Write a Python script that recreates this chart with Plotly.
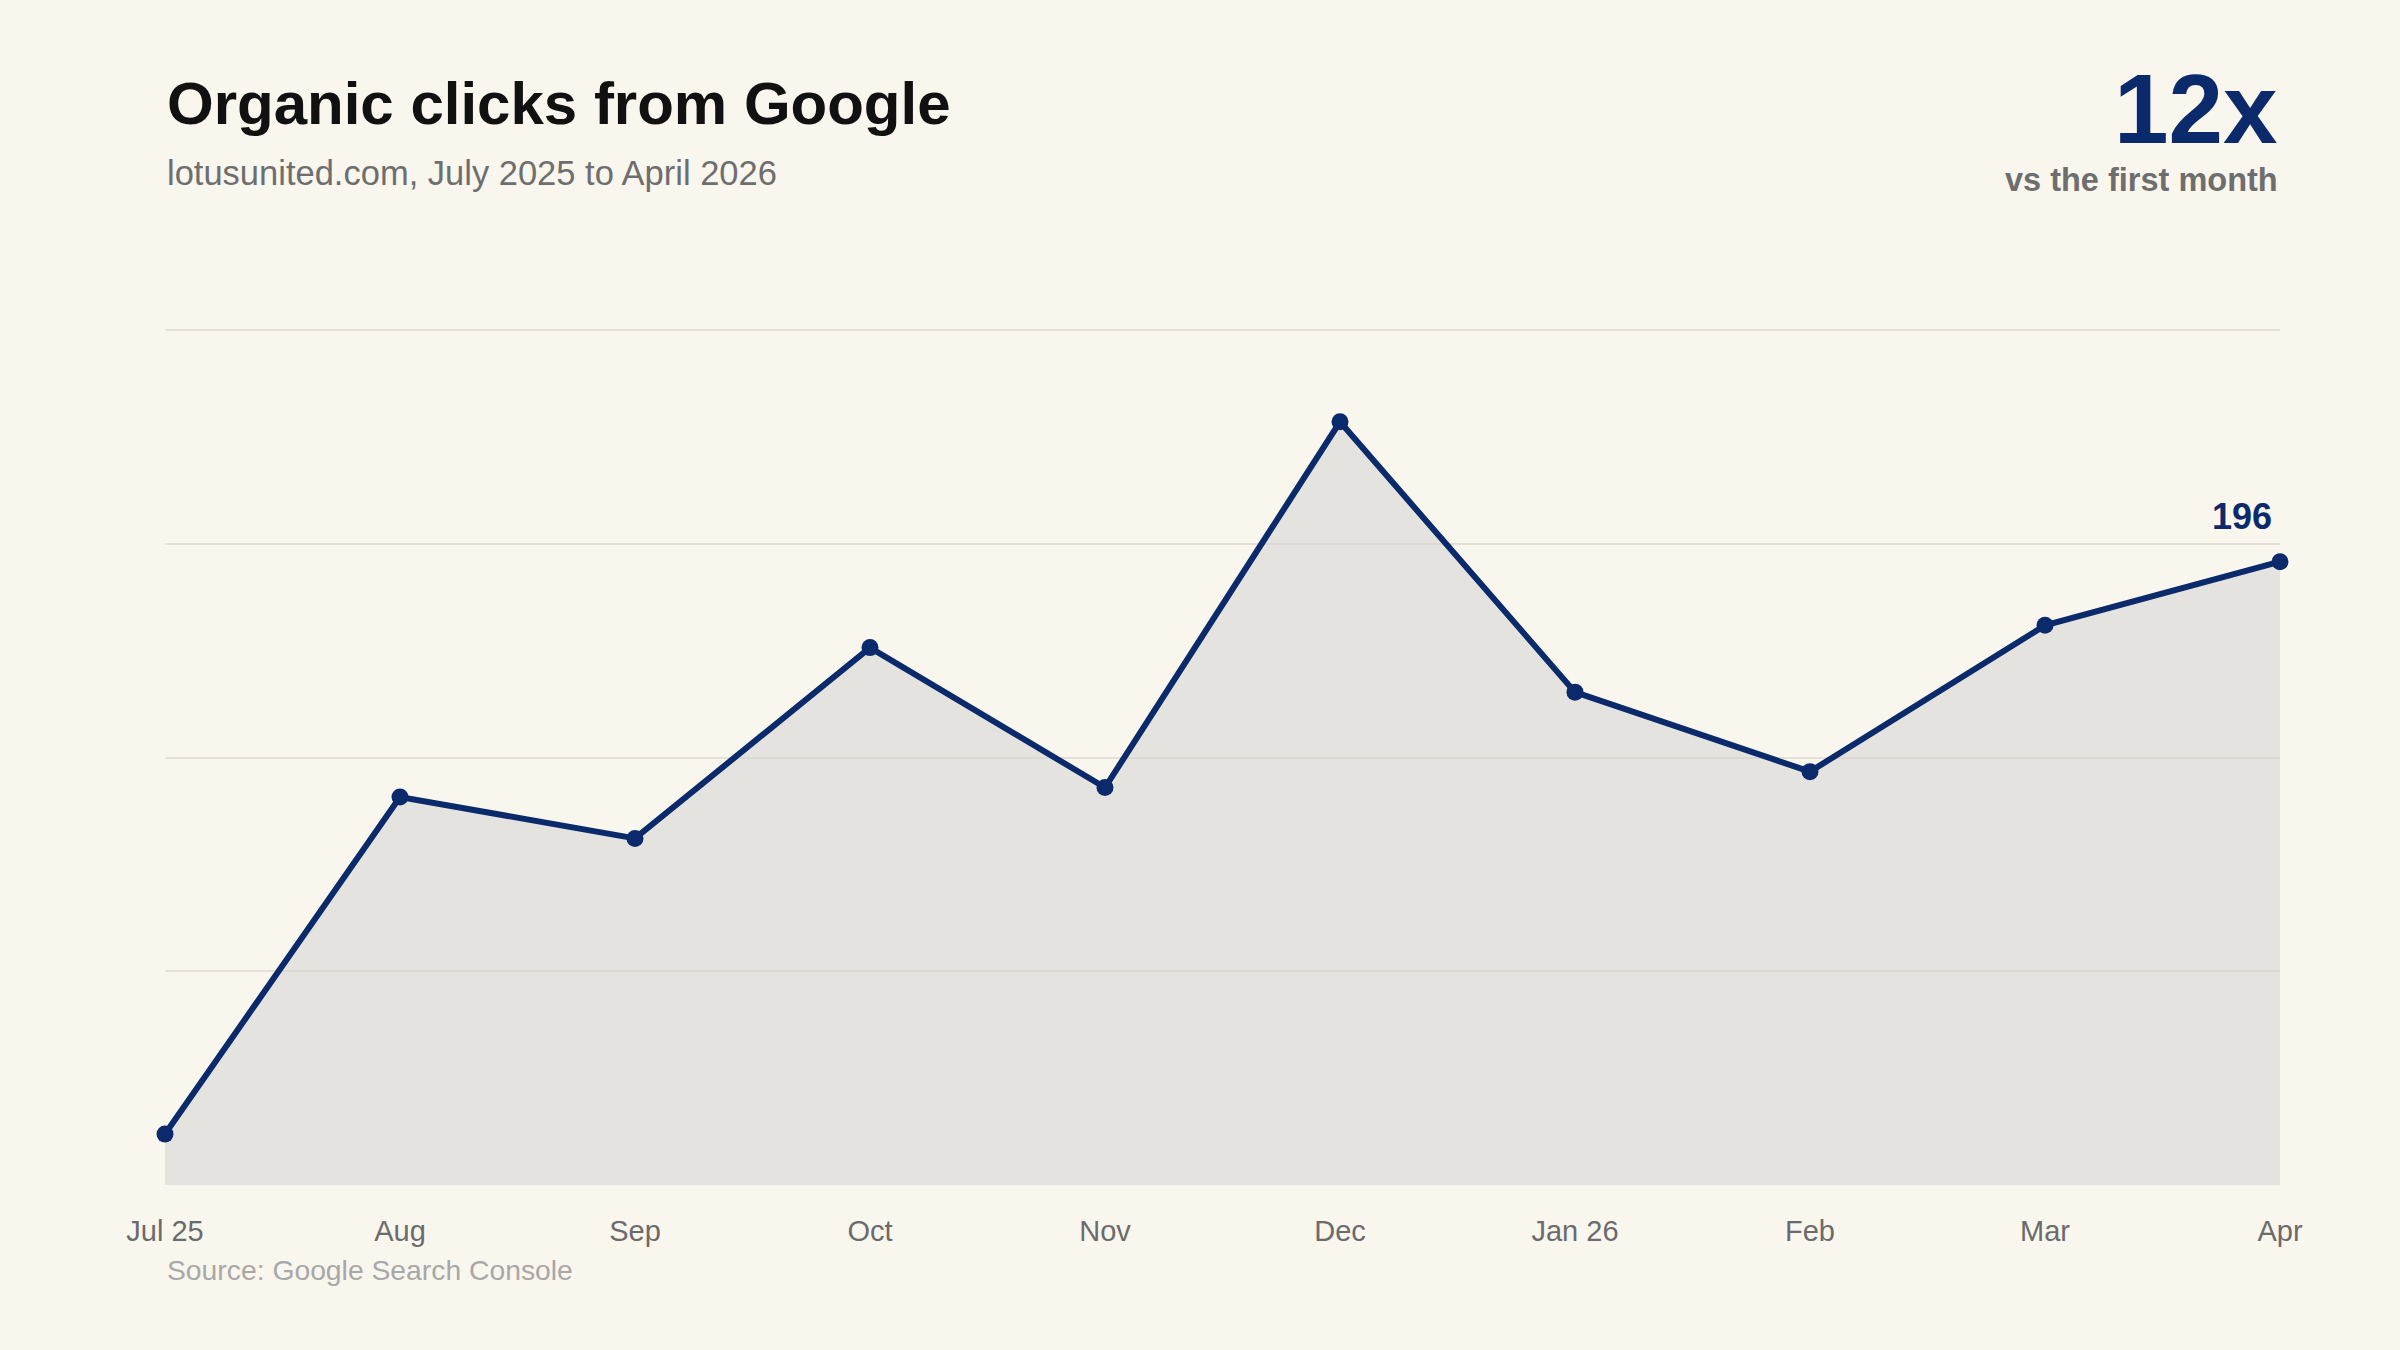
import plotly.graph_objects as go

months = ["Jul 25", "Aug", "Sep", "Oct", "Nov", "Dec", "Jan 26", "Feb", "Mar", "Apr"]
clicks = [16, 122, 109, 169, 125, 240, 155, 130, 176, 196]

title_text = "Organic clicks from Google"
subtitle_text = "lotusunited.com, July 2025 to April 2026"
multiple_text = "12x"
multiple_sub = "vs the first month"
source_text = "Source: Google Search Console"

NAVY = "#0b2a6b"
BG = "#f9f6ee"
FONT = "Liberation Sans, Arial, Helvetica, sans-serif"

ymax = max(clicks) * 1.12
grid_vals = [ymax * k / 4 for k in range(1, 5)]

fig = go.Figure()
fig.add_trace(go.Scatter(
    x=months, y=clicks,
    mode="lines+markers",
    line=dict(color=NAVY, width=6),
    marker=dict(color=NAVY, size=17),
    fill="tozeroy",
    fillcolor="rgba(212,212,212,0.55)",
    cliponaxis=False,
    hoverinfo="skip",
))

fig.update_layout(
    width=2400, height=1350,
    margin=dict(l=165, r=120, t=326, b=165),
    paper_bgcolor=BG, plot_bgcolor=BG,
    showlegend=False,
    font=dict(family=FONT),
    xaxis=dict(
        type="category", range=[0, len(months) - 1],
        showgrid=False, zeroline=False, showline=False,
        ticks="", tickfont=dict(size=29, color="#6b6b6b", family=FONT),
        ticklabelstandoff=26,
    ),
    yaxis=dict(
        range=[0, ymax * 1.005], tickvals=grid_vals, showticklabels=False,
        showgrid=True, gridcolor="#e6e1d6", gridwidth=2,
        zeroline=False, showline=False, ticks="",
    ),
    annotations=[
        dict(text=f"<b>{title_text}</b>", xref="paper", yref="paper", x=0, y=1.259,
             xanchor="left", yanchor="middle", showarrow=False,
             font=dict(size=60, color="#111111", family=FONT)),
        dict(text=subtitle_text, xref="paper", yref="paper", x=0, y=1.178,
             xanchor="left", yanchor="middle", showarrow=False,
             font=dict(size=34.5, color="#6e6e6e", family=FONT)),
        dict(text=f"<b>{multiple_text}</b>", xref="paper", yref="paper", x=1, y=1.2532,
             xanchor="right", yanchor="middle", showarrow=False,
             font=dict(size=98, color=NAVY, family=FONT)),
        dict(text=f"<b>{multiple_sub}</b>", xref="paper", yref="paper", x=1, y=1.170,
             xanchor="right", yanchor="middle", showarrow=False,
             font=dict(size=32.5, color="#6e6e6e", family=FONT)),
        dict(text=source_text, xref="paper", yref="paper", x=0, y=-0.0995,
             xanchor="left", yanchor="middle", showarrow=False,
             font=dict(size=28.3, color="#a8a8a8", family=FONT)),
        dict(text=f"<b>{clicks[-1]}</b>", x=months[-1], y=clicks[-1],
             xanchor="right", yanchor="middle", xshift=-6, yshift=45, showarrow=False,
             font=dict(size=36, color=NAVY, family=FONT)),
    ],
)

fig.write_html("out.html")
